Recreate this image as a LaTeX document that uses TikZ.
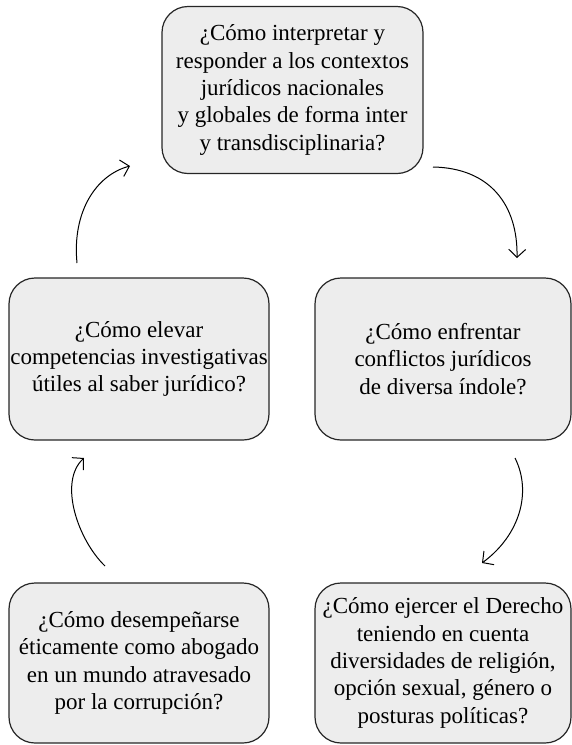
\documentclass[tikz,border=0pt]{standalone}
\usepackage{fontspec}
\setmainfont{Liberation Serif}
\usetikzlibrary{arrows.meta}
\begin{document}
\begin{tikzpicture}[x=1pt,y=-1pt,
  qbox/.style={draw=black!85, line width=1.2pt, fill=black!7, rounded corners=26pt,
    align=center, inner sep=0pt, font=\fontsize{23}{27.3}\selectfont},
  conn/.style={line width=1pt, -{Straight Barb[length=8pt,width=17pt,line width=1pt]}}]
\useasboundingbox (0,0) rectangle (572,745);
\node[qbox, minimum width=261pt, minimum height=167pt] (top) at (292.5,90)
  {¿Cómo interpretar y\\responder a los contextos\\jurídicos nacionales\\y globales de forma inter\\y transdisciplinaria?};
\node[qbox, minimum width=260pt, minimum height=162pt] (lm) at (139,359)
  {¿Cómo elevar\\competencias investigativas\\útiles al saber jurídico?};
\node[qbox, minimum width=256pt, minimum height=162pt] (rm) at (443,359)
  {¿Cómo enfrentar\\conflictos jurídicos\\de diversa índole?};
\node[qbox, minimum width=260pt, minimum height=160pt] (bl) at (139,663)
  {¿Cómo desempeñarse\\éticamente como abogado\\en un mundo atravesado\\por la corrupción?};
\node[qbox, minimum width=256pt, minimum height=160pt] (br) at (443,663)
  {¿Cómo ejercer el Derecho\\teniendo en cuenta\\diversidades de religión,\\opción sexual, género o\\posturas políticas?};
\coordinate (a1s) at (433,167);
\coordinate (a1e) at (517,258);
\coordinate (a2s) at (515,458);
\coordinate (a2e) at (482,563);
\coordinate (a3s) at (105,566);
\coordinate (a3e) at (84,458);
\coordinate (a4s) at (77,263);
\coordinate (a4e) at (130,166);
\draw[conn] (a1s) .. controls (490,168) and (518,205) .. (a1e);
\draw[conn] (a2s) .. controls (532,492) and (520,535) .. (a2e);
\draw[conn] (a3s) .. controls (78,540) and (58,482) .. (a3e);
\draw[conn] (a4s) .. controls (72,212) and (96,175) .. (a4e);
\end{tikzpicture}
\end{document}
